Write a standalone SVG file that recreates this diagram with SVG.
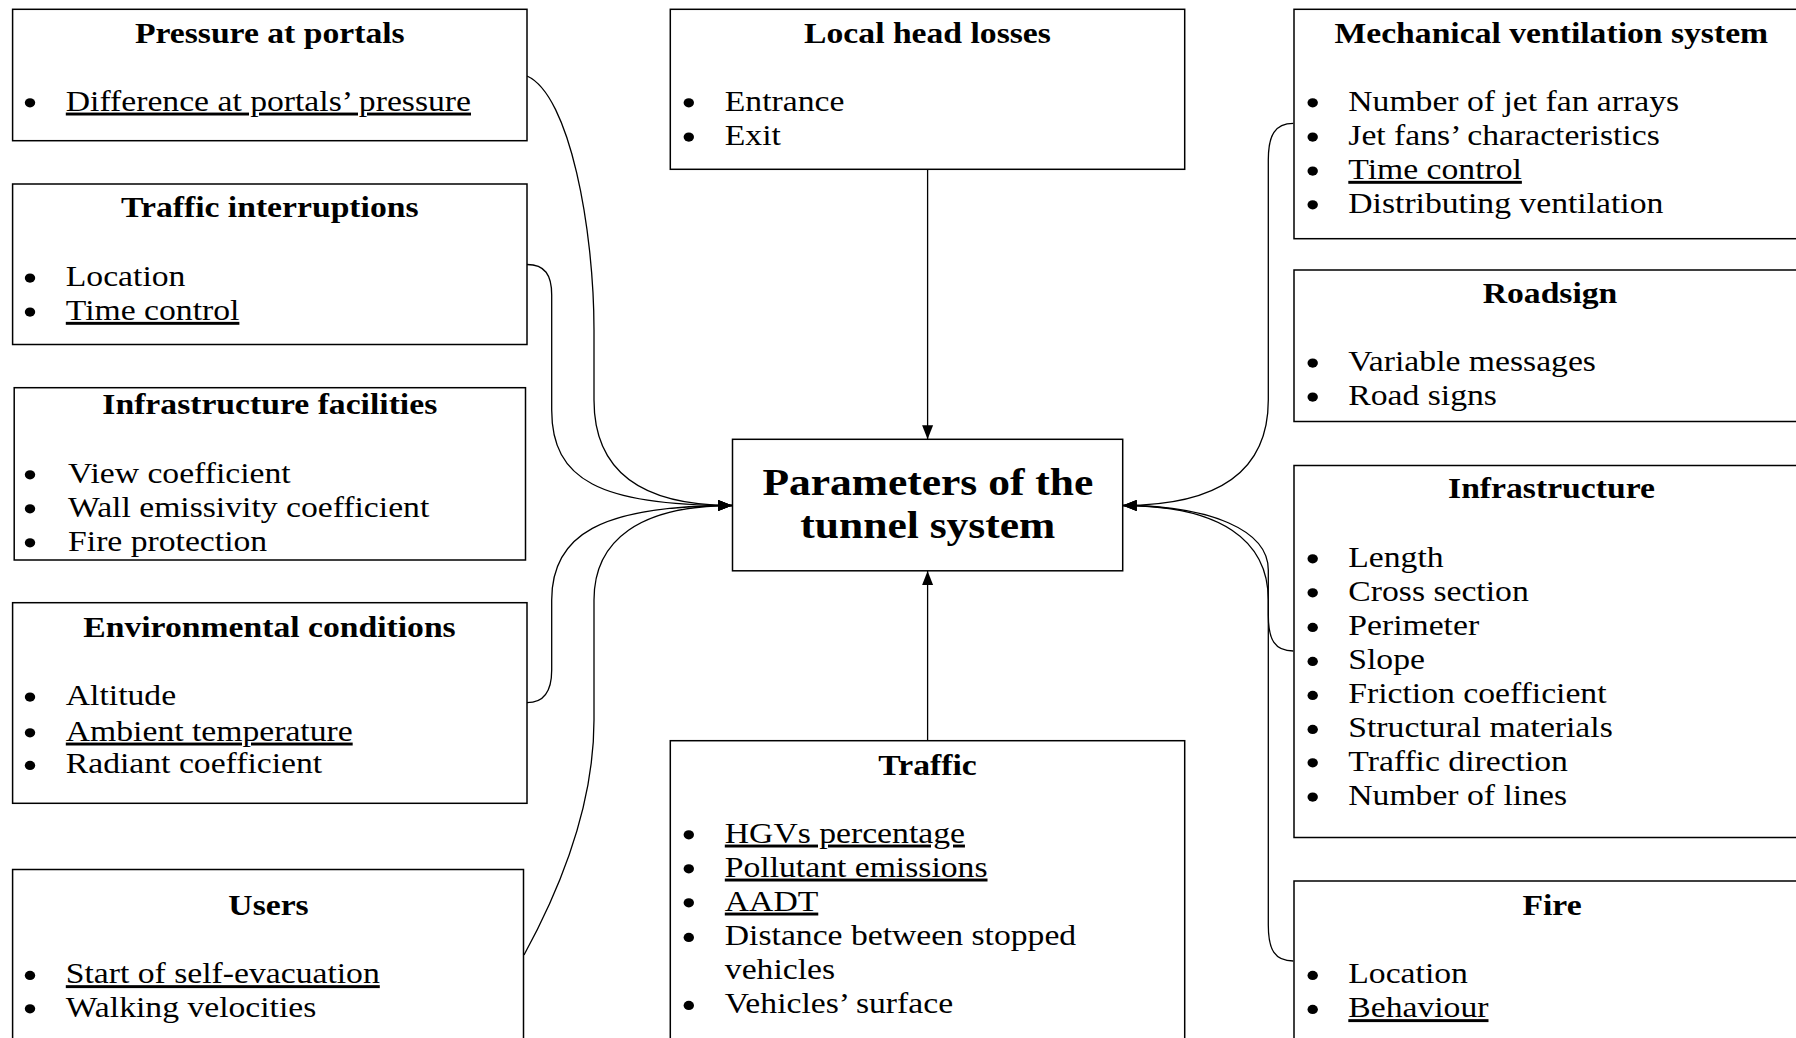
<svg xmlns="http://www.w3.org/2000/svg" width="1796" height="1038" viewBox="0 0 1796 1038">
<style>
.box{fill:#fff;stroke:#000;stroke-width:1.5}
.t{font-family:"Liberation Serif","Times New Roman",serif;font-size:29.4px;fill:#000}
.h{font-weight:bold;text-anchor:middle}
.c{font-family:"Liberation Serif","Times New Roman",serif;font-size:38px;font-weight:bold;text-anchor:middle;fill:#000}
.u{text-decoration:underline}
.d{fill:#000}
.cn{fill:none;stroke:#000;stroke-width:1.3;marker-end:url(#ah)}
</style>
<defs>
<marker id="ah" markerUnits="userSpaceOnUse" markerWidth="15" markerHeight="12" refX="14" refY="6" orient="auto"><path d="M0,0.5 L14,6 L0,11.5 z" fill="#000"/></marker>
<ellipse id="bl" cx="0" cy="0" rx="5.2" ry="4.6"/>
</defs>
<rect width="1796" height="1038" fill="#fff"/>
<g id="connectors">
<path class="cn" d="M527,76 C570,95 594,230 594,330 L594,400 C594,470 640,505.5 732,505.5"/>
<path class="cn" d="M527,264.5 C545,264.5 551.7,275 551.7,295 L551.7,410 C551.7,480 600,505.5 732,505.5"/>
<path class="cn" d="M527,702.7 C545,702.7 551.7,690 551.7,670 L551.7,600 C551.7,535 600,505.5 732,505.5"/>
<path class="cn" d="M524,955 C565,880 594,800 594,720 L594,600 C594,540 640,505.5 732,505.5"/>
<path class="cn" d="M1293.3,123.3 C1275,123.3 1268.3,135 1268.3,160 L1268.3,400 C1268.3,470 1220,505.5 1122.7,505.5"/>
<path class="cn" d="M1293.3,651 C1275,651 1268.3,640 1268.3,615 L1268.3,570 C1268.3,530 1210,505.5 1122.7,505.5"/>
<path class="cn" d="M1293.3,961 C1275,961 1268.3,950 1268.3,925 L1268.3,600 C1268.3,540 1220,505.5 1122.7,505.5"/>
<path class="cn" d="M927.6,169.3 L927.6,439.3"/>
<path class="cn" d="M927.6,740.7 L927.6,571"/>
</g>
<g id="pressure">
<rect class="box" x="12.6" y="9.3" width="514.4" height="131.4"/>
<text class="t h" transform="translate(269.8 43) scale(1.145 1)">Pressure at portals</text>
<use href="#bl" class="d" x="30" y="102.8"/>
<text class="t u" transform="translate(65.8 110.7) scale(1.145 1)">Difference at portals’ pressure</text>
</g>
<g id="traffic-interruptions">
<rect class="box" x="12.6" y="184" width="514.4" height="160.5"/>
<text class="t h" transform="translate(269.8 217) scale(1.145 1)">Traffic interruptions</text>
<use href="#bl" class="d" x="30" y="278.1"/>
<text class="t" transform="translate(65.8 286) scale(1.145 1)">Location</text>
<use href="#bl" class="d" x="30" y="312.1"/>
<text class="t u" transform="translate(65.8 320) scale(1.145 1)">Time control</text>
</g>
<g id="infrastructure-facilities">
<rect class="box" x="14.2" y="387.7" width="511.3" height="172.3"/>
<text class="t h" transform="translate(269.8 414.3) scale(1.145 1)">Infrastructure facilities</text>
<use href="#bl" class="d" x="30" y="474.8"/>
<text class="t" transform="translate(68.1 482.7) scale(1.145 1)">View coefficient</text>
<use href="#bl" class="d" x="30" y="508.8"/>
<text class="t" transform="translate(68.1 516.7) scale(1.145 1)">Wall emissivity coefficient</text>
<use href="#bl" class="d" x="30" y="542.8"/>
<text class="t" transform="translate(68.1 550.7) scale(1.145 1)">Fire protection</text>
</g>
<g id="environmental-conditions">
<rect class="box" x="12.6" y="602.7" width="514.4" height="200.6"/>
<text class="t h" transform="translate(269.5 636.7) scale(1.145 1)">Environmental conditions</text>
<use href="#bl" class="d" x="30" y="697.1"/>
<text class="t" transform="translate(65.8 705) scale(1.145 1)">Altitude</text>
<use href="#bl" class="d" x="30" y="732.8"/>
<text class="t u" transform="translate(65.8 740.7) scale(1.145 1)">Ambient temperature</text>
<use href="#bl" class="d" x="30" y="765.4"/>
<text class="t" transform="translate(65.8 773.3) scale(1.145 1)">Radiant coefficient</text>
</g>
<g id="users">
<rect class="box" x="12.6" y="869.5" width="510.9" height="200"/>
<text class="t h" transform="translate(268.5 915) scale(1.145 1)">Users</text>
<use href="#bl" class="d" x="30" y="975.4"/>
<text class="t u" transform="translate(65.8 983.3) scale(1.145 1)">Start of self-evacuation</text>
<use href="#bl" class="d" x="30" y="1008.8"/>
<text class="t" transform="translate(65.8 1016.7) scale(1.145 1)">Walking velocities</text>
</g>
<g id="local-head-losses">
<rect class="box" x="670.3" y="9.3" width="514.4" height="160"/>
<text class="t h" transform="translate(927.5 43) scale(1.145 1)">Local head losses</text>
<use href="#bl" class="d" x="688.8" y="102.8"/>
<text class="t" transform="translate(724.8 110.7) scale(1.145 1)">Entrance</text>
<use href="#bl" class="d" x="688.8" y="137.1"/>
<text class="t" transform="translate(724.8 145) scale(1.145 1)">Exit</text>
</g>
<g id="parameters">
<rect class="box" x="732.5" y="439.3" width="390.2" height="131.5"/>
<text class="c" transform="translate(927.8 495) scale(1.145 1)">Parameters of the</text>
<text class="c" transform="translate(927.8 538.3) scale(1.145 1)">tunnel system</text>
</g>
<g id="traffic">
<rect class="box" x="670.3" y="740.7" width="514.4" height="330"/>
<text class="t h" transform="translate(927.5 775) scale(1.145 1)">Traffic</text>
<use href="#bl" class="d" x="688.8" y="834.8"/>
<text class="t u" transform="translate(724.8 842.7) scale(1.145 1)">HGVs percentage</text>
<use href="#bl" class="d" x="688.8" y="868.8"/>
<text class="t u" transform="translate(724.8 876.7) scale(1.145 1)">Pollutant emissions</text>
<use href="#bl" class="d" x="688.8" y="902.8"/>
<text class="t u" transform="translate(724.8 910.7) scale(1.145 1)">AADT</text>
<use href="#bl" class="d" x="688.8" y="937.4"/>
<text class="t" transform="translate(724.8 945.3) scale(1.145 1)">Distance between stopped</text>
<text class="t" transform="translate(724.8 979.3) scale(1.145 1)">vehicles</text>
<use href="#bl" class="d" x="688.8" y="1005.4"/>
<text class="t" transform="translate(724.8 1013.3) scale(1.145 1)">Vehicles’ surface</text>
</g>
<g id="mechanical-ventilation">
<rect class="box" x="1294" y="9.3" width="520" height="229.4"/>
<text class="t h" transform="translate(1551.3 43) scale(1.145 1)">Mechanical ventilation system</text>
<use href="#bl" class="d" x="1312.7" y="102.8"/>
<text class="t" transform="translate(1348.3 110.7) scale(1.145 1)">Number of jet fan arrays</text>
<use href="#bl" class="d" x="1312.7" y="137.1"/>
<text class="t" transform="translate(1348.3 145) scale(1.145 1)">Jet fans’ characteristics</text>
<use href="#bl" class="d" x="1312.7" y="171.1"/>
<text class="t u" transform="translate(1348.3 179) scale(1.145 1)">Time control</text>
<use href="#bl" class="d" x="1312.7" y="204.8"/>
<text class="t" transform="translate(1348.3 212.7) scale(1.145 1)">Distributing ventilation</text>
</g>
<g id="roadsign">
<rect class="box" x="1294" y="270" width="520" height="151.5"/>
<text class="t h" transform="translate(1550 303.3) scale(1.145 1)">Roadsign</text>
<use href="#bl" class="d" x="1312.7" y="363.1"/>
<text class="t" transform="translate(1348.3 371) scale(1.145 1)">Variable messages</text>
<use href="#bl" class="d" x="1312.7" y="397.1"/>
<text class="t" transform="translate(1348.3 405) scale(1.145 1)">Road signs</text>
</g>
<g id="infrastructure">
<rect class="box" x="1294" y="465.5" width="520" height="372"/>
<text class="t h" transform="translate(1551.5 498.3) scale(1.145 1)">Infrastructure</text>
<use href="#bl" class="d" x="1312.7" y="558.8"/>
<text class="t" transform="translate(1348.3 566.7) scale(1.145 1)">Length</text>
<use href="#bl" class="d" x="1312.7" y="592.8"/>
<text class="t" transform="translate(1348.3 600.7) scale(1.145 1)">Cross section</text>
<use href="#bl" class="d" x="1312.7" y="627.4"/>
<text class="t" transform="translate(1348.3 635.3) scale(1.145 1)">Perimeter</text>
<use href="#bl" class="d" x="1312.7" y="661.4"/>
<text class="t" transform="translate(1348.3 669.3) scale(1.145 1)">Slope</text>
<use href="#bl" class="d" x="1312.7" y="695.4"/>
<text class="t" transform="translate(1348.3 703.3) scale(1.145 1)">Friction coefficient</text>
<use href="#bl" class="d" x="1312.7" y="729.4"/>
<text class="t" transform="translate(1348.3 737.3) scale(1.145 1)">Structural materials</text>
<use href="#bl" class="d" x="1312.7" y="762.8"/>
<text class="t" transform="translate(1348.3 770.7) scale(1.145 1)">Traffic direction</text>
<use href="#bl" class="d" x="1312.7" y="797.1"/>
<text class="t" transform="translate(1348.3 805) scale(1.145 1)">Number of lines</text>
</g>
<g id="fire">
<rect class="box" x="1294" y="881" width="520" height="200"/>
<text class="t h" transform="translate(1552 915) scale(1.145 1)">Fire</text>
<use href="#bl" class="d" x="1312.7" y="975.4"/>
<text class="t" transform="translate(1348.3 983.3) scale(1.145 1)">Location</text>
<use href="#bl" class="d" x="1312.7" y="1009.4"/>
<text class="t u" transform="translate(1348.3 1017.3) scale(1.145 1)">Behaviour</text>
</g>
</svg>
